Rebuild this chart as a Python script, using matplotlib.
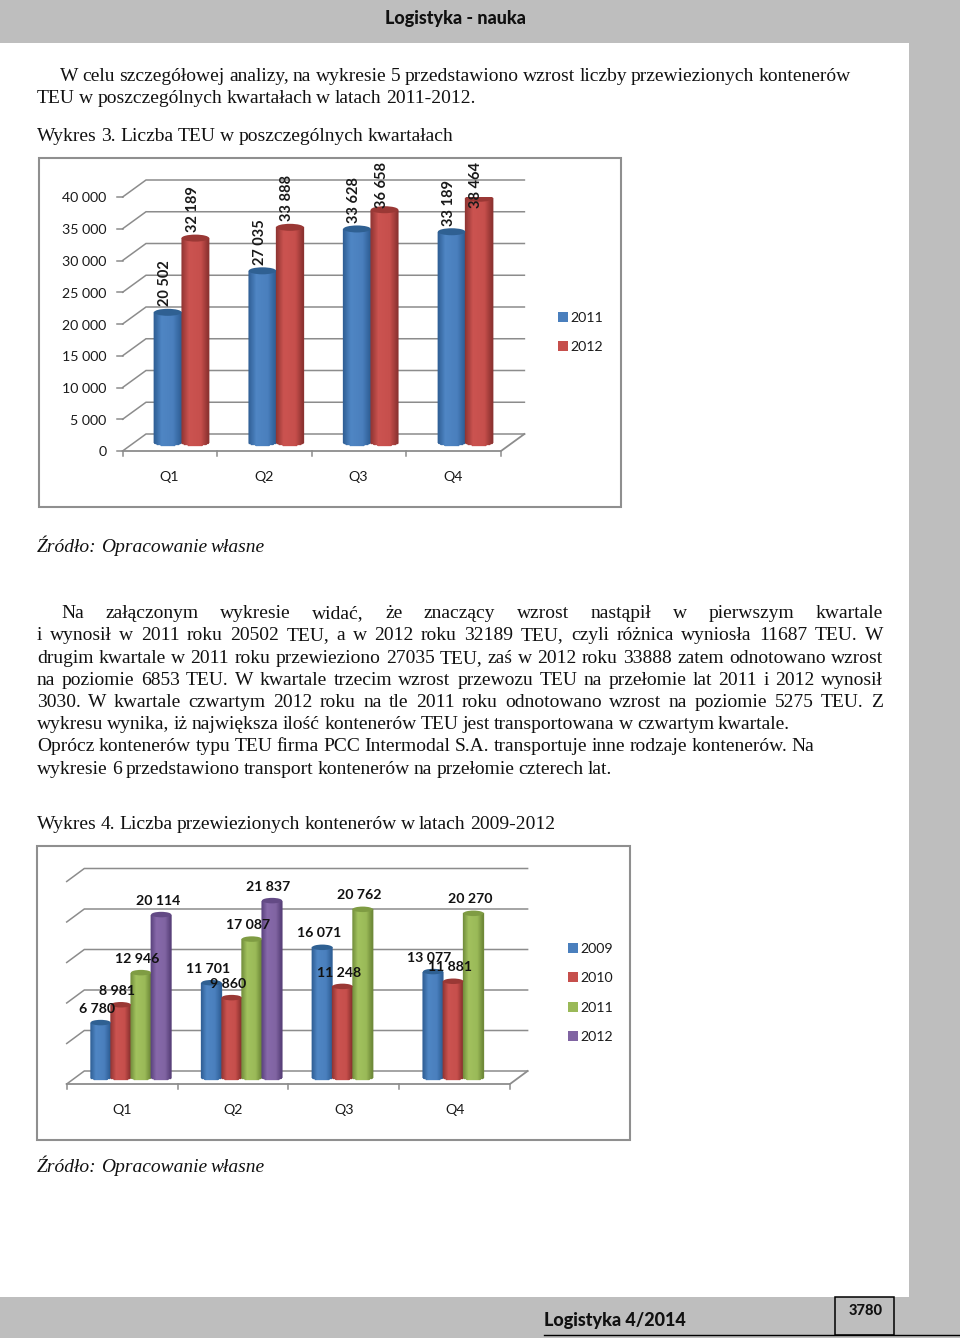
import numpy as np
import matplotlib
matplotlib.use("Agg")
import matplotlib.pyplot as plt
from matplotlib.colors import LinearSegmentedColormap
from matplotlib.patches import Rectangle, Ellipse

W, H = 960, 1338
GRID = "#8c8c8c"
PAGE_GREY = "#bebebe"

# Chart data
quarters = ["Q1", "Q2", "Q3", "Q4"]
teu_years = ["2011", "2012"]
teu_2011 = [20502, 27035, 33628, 33189]
teu_2012 = [32189, 33888, 36658, 38464]
teu_ticks = [0, 5000, 10000, 15000, 20000, 25000, 30000, 35000, 40000]

cont_years = ["2009", "2010", "2011", "2012"]
cont_2009 = [6780, 11701, 16071, 13077]
cont_2010 = [8981, 9860, 11248, 11881]
cont_2011 = [12946, 17087, 20762, 20270]
cont_2012 = [20114, 21837, None, None]
cont_grid = [0, 5000, 10000, 15000, 20000, 25000]

# Page text: text, left, right, baseline y
body_lines = [
    ("W celu szczegółowej analizy, na wykresie 5 przedstawiono wzrost liczby przewiezionych kontenerów", 60, 851, 81),
    ("TEU w poszczególnych kwartałach w latach 2011-2012.", 37, 475, 103),
    ("Wykres 3. Liczba TEU w poszczególnych kwartałach", 37, 453, 141),
    ("Na załączonym wykresie widać, że znaczący wzrost nastąpił w pierwszym kwartale", 61, 883, 618),
    ("i wynosił w 2011 roku 20502 TEU, a w 2012 roku 32189 TEU, czyli różnica wyniosła 11687 TEU. W", 37, 883, 640),
    ("drugim kwartale w 2011 roku przewieziono 27035 TEU, zaś w 2012 roku 33888 zatem odnotowano wzrost", 37, 883, 663),
    ("na poziomie 6853 TEU. W kwartale trzecim wzrost przewozu TEU na przełomie lat 2011 i 2012 wynosił", 37, 883, 685),
    ("3030. W kwartale czwartym 2012 roku na tle 2011 roku odnotowano wzrost na poziomie 5275 TEU. Z", 37, 883, 707),
    ("wykresu wynika, iż największa ilość kontenerów TEU jest transportowana w czwartym kwartale.", 37, 790, 729),
    ("Oprócz kontenerów typu TEU firma PCC Intermodal S.A. transportuje inne rodzaje kontenerów. Na", 37, 814, 751),
    ("wykresie 6 przedstawiono transport kontenerów na przełomie czterech lat.", 37, 612, 774),
    ("Wykres 4. Liczba przewiezionych kontenerów w latach 2009-2012", 37, 555, 829),
]
source_lines = [
    ("Źródło: Opracowanie własne", 37, 265, 552),
    ("Źródło: Opracowanie własne", 37, 265, 1172),
]

colors = {
    "blue": ("#2f5e94", "#4f86c4", "#4a7fbd", "#2f5f95", "#2f6092"),
    "red": ("#8f3533", "#cb5350", "#c64f4c", "#8a3230", "#9a3835"),
    "green": ("#728d3c", "#a2c25e", "#9ab958", "#6e8838", "#7f9c43"),
    "purple": ("#5a437e", "#8769aa", "#8064a2", "#573f78", "#634a85"),
}

fig = plt.figure(figsize=(W / 100, H / 100), dpi=100, facecolor="white")
page = fig.add_axes([0, 0, 1, 1])
page.set_xlim(0, W)
page.set_ylim(H, 0)
page.axis("off")

# grey page furniture
page.add_patch(Rectangle((0, 0), W, 43, color=PAGE_GREY, lw=0))
page.add_patch(Rectangle((909, 0), 51, H, color=PAGE_GREY, lw=0))
page.add_patch(Rectangle((0, 1297), W, 41, color=PAGE_GREY, lw=0))
page.plot([544, 960], [1334.5, 1334.5], color="black", lw=1.0)
page.add_patch(Rectangle((835, 1296.5), 59, 38, fc="none", ec="black", lw=1.1))
page.text(455.5, 18.5, "Logistyka - nauka", ha="center", va="center",
          family="Lato", weight="black", fontsize=13, color="#111111")
page.text(544, 1320.5, "Logistyka 4/2014", ha="left", va="center",
          family="Lato", weight="black", fontsize=13, color="#111111")
page.text(865.5, 1311, "3780", ha="center", va="center",
          family="Lato", weight="black", fontsize=10.5, color="#111111")

renderer = fig.canvas.get_renderer()


def set_line(text, x0, x1, y, style="normal"):
    # place word by word so the line ends where it does in the print
    words = text.split(" ")
    items = [page.text(x0, y, w, family="Liberation Serif", style=style, fontsize=14,
                       ha="left", va="baseline", color="#111111") for w in words]
    widths = [t.get_window_extent(renderer).width for t in items]
    gap = (x1 - x0 - sum(widths)) / max(len(words) - 1, 1)
    x = x0
    for t, w in zip(items, widths):
        t.set_x(x)
        x += w + gap


for line in body_lines:
    set_line(*line)
for line in source_lines:
    set_line(*line, style="italic")


def cylinder(ax, centre, value, width, cap_h, base_y, name):
    edge_l, mid_l, mid_r, edge_r, cap = colors[name]
    cmap = LinearSegmentedColormap.from_list(
        name, [(0, edge_l), (0.28, mid_l), (0.72, mid_r), (1, edge_r)])
    n = 80
    t = np.linspace(-1, 1, n + 1)
    xs = centre + t * width / 2
    low = base_y - cap_h / 2 * np.sqrt(1 - t ** 2)
    top = base_y + value
    X = np.vstack([xs, xs])
    Y = np.vstack([low, np.full_like(xs, top)])
    C = ((t[:-1] + t[1:]) / 2 + 1)[None, :] / 2
    ax.pcolormesh(X, Y, C, cmap=cmap, vmin=0, vmax=1, shading="flat", zorder=3,
                  antialiased=True, edgecolors="face", linewidth=0.2)
    ax.add_patch(Ellipse((centre, top), width, cap_h, fc=cap, ec="none", zorder=4))


def make_axes(x0, x1, y0, y1, ymax):
    ax = fig.add_axes([x0 / W, 1 - y0 / H, (x1 - x0) / W, (y0 - y1) / H])
    ax.set_xlim(0, 4)
    ax.set_ylim(0, ymax)
    ax.axis("off")
    return ax


def walls(ax, levels, dx, dy):
    for v in levels:
        ax.plot([0, dx, 4 + dx], [v, v + dy, v + dy], color=GRID, lw=1.1,
                clip_on=False, zorder=1, solid_joinstyle="miter")
    ax.plot([0, 4, 4 + dx], [0, 0, dy], color=GRID, lw=1.3, clip_on=False, zorder=2,
            solid_joinstyle="miter")


def legend(labels, names, x, y_list, size):
    for lab, name, y in zip(labels, names, y_list):
        page.add_patch(Rectangle((x, y - size / 2), size, size, color=colors[name][2], lw=0))
        page.text(x + size + 2.5, y + 1, lab, family="Lato", fontsize=10.2, ha="left", va="center",
                  color="#1a1a1a")


# frames
page.add_patch(Rectangle((38.5, 157.5), 582, 349, fc="white", ec="#8f8f8f", lw=1.5))
page.add_patch(Rectangle((37, 845.5), 593, 294, fc="white", ec="#8f8f8f", lw=1.5))

# Wykres 3
ax1 = make_axes(122.6, 501, 451, 197, 40000)
cat1 = (501 - 122.6) / 4
py1 = 40000 / 254
dx1, dy1 = 23.4 / cat1, 17 * py1
walls(ax1, teu_ticks, dx1, dy1)
bar_w = 27.5 / cat1
for i, q in enumerate(quarters):
    c = i + 0.5 + dx1 / 2
    for v, off, name in ((teu_2011[i], -bar_w / 2, "blue"), (teu_2012[i], bar_w / 2, "red")):
        cylinder(ax1, c + off, v, bar_w, 7 * py1, dy1 / 2, name)
        # labels run out of room near the top of the frame
        ax1.annotate(f"{v:,}".replace(",", " "), (c + off, min(v, 36000) + dy1 / 2),
                     xytext=(-2, 4.2), textcoords="offset points", rotation=90,
                     ha="center", va="bottom", family="Lato", weight="bold", fontsize=10.5,
                     color="#1a1a1a", zorder=6, annotation_clip=False)
    ax1.plot([i, i], [0, -5 * py1], color=GRID, lw=1.1, clip_on=False, zorder=2)
    ax1.text(i + 0.5 - 0.8 / cat1, -26 * py1, q, family="Lato", fontsize=10.2, ha="center", va="center",
             color="#1a1a1a")
ax1.plot([4, 4], [0, -5 * py1], color=GRID, lw=1.1, clip_on=False, zorder=2)
for v in teu_ticks:
    ax1.plot([-5.5 / cat1, 0], [v, v], color=GRID, lw=1.1, clip_on=False, zorder=2)
    ax1.text(-16 / cat1, v - 1.5 * py1, f"{v:,}".replace(",", " "), family="Lato", fontsize=10.2,
             ha="right", va="center", color="#1a1a1a")
legend(teu_years, ["blue", "red"], 558, [317, 346], 10)

# Wykres 4
ax2 = make_axes(66.7, 510, 1084, 881.5, 25000)
cat2 = (510 - 66.7) / 4
py2 = 25000 / 202.5
dx2, dy2 = 17.6 / cat2, 13 * py2
walls(ax2, cont_grid, dx2, dy2)
bar_w2 = 20.2 / cat2
series = [(cont_2009, "blue"), (cont_2010, "red"), (cont_2011, "green"), (cont_2012, "purple")]
for i, q in enumerate(quarters):
    c = i + 0.5 + dx2 / 2
    for k, (vals, name) in enumerate(series):
        v = vals[i]
        if v is None:
            continue
        xc = c + (k - 1.5) * bar_w2
        cylinder(ax2, xc, v, bar_w2, 5.5 * py2, dy2 / 2, name)
        ax2.annotate(f"{v:,}".replace(",", " "), (xc, v + dy2 / 2), xytext=(-2.5, 10),
                     textcoords="offset points", ha="center", va="center", family="Lato",
                     weight="bold", fontsize=10.2, color="#111111", zorder=6,
                     annotation_clip=False)
    ax2.plot([i, i], [0, -5 * py2], color=GRID, lw=1.1, clip_on=False, zorder=2)
    ax2.text(i + 0.5, -26 * py2, q, family="Lato", fontsize=10.2, ha="center", va="center",
             color="#1a1a1a")
ax2.plot([4, 4], [0, -5 * py2], color=GRID, lw=1.1, clip_on=False, zorder=2)
legend(cont_years, ["blue", "red", "green", "purple"], 568, [948, 977, 1007, 1036], 10)

fig.savefig("out.png", dpi=100)
